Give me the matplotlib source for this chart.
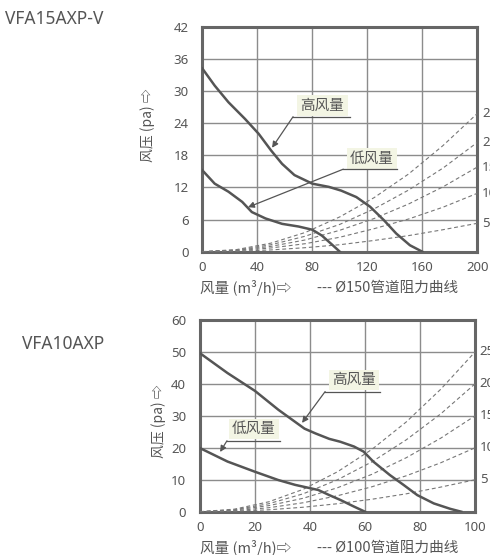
import matplotlib
matplotlib.use("Agg")
import matplotlib.pyplot as plt

plt.rcParams['font.family'] = ['Noto Sans CJK SC', 'DejaVu Sans']

# ---- VFA15AXP-V (top chart) ----
top_x_ticks = [0, 40, 80, 120, 160, 200]
top_y_ticks = [0, 6, 12, 18, 24, 30, 36, 42]

top_high_x = [0, 9, 19, 31, 41, 50, 58, 67, 80, 92, 101, 112, 122, 132, 141, 151, 160]
top_high_y = [34.2, 31.0, 27.9, 24.8, 22.0, 18.9, 16.4, 14.3, 12.7, 12.1, 11.4, 10.2, 8.4, 5.9, 3.4, 1.2, 0]

top_low_x = [0, 9, 19, 29, 36, 46, 58, 70, 80, 87, 94, 100]
top_low_y = [15.2, 12.7, 11.2, 9.3, 7.4, 6.2, 5.2, 4.7, 4.1, 3.0, 1.4, 0]

# duct resistance curves (Ø150), labelled by duct length
top_duct_x = [0, 25, 50, 75, 100, 125, 150, 175, 200]
top_duct_labels = ["25", "20", "15", "10", "5"]
top_duct_y = [
    [0, 0.4, 1.6, 3.6, 6.5, 10.1, 14.5, 19.8, 25.8],
    [0, 0.3, 1.3, 2.9, 5.1, 8.0, 11.5, 15.6, 20.4],
    [0, 0.25, 1.0, 2.2, 4.0, 6.2, 8.9, 12.1, 15.8],
    [0, 0.17, 0.7, 1.5, 2.7, 4.3, 6.1, 8.3, 10.9],
    [0, 0.08, 0.33, 0.75, 1.3, 2.1, 3.0, 4.1, 5.3],
]

# ---- VFA10AXP (bottom chart) ----
bot_x_ticks = [0, 20, 40, 60, 80, 100]
bot_y_ticks = [0, 10, 20, 30, 40, 50, 60]

bot_high_x = [0, 10, 20, 28.5, 38, 42, 47, 51, 56, 59.5, 63, 69, 74, 79, 85, 91, 95]
bot_high_y = [49.6, 43.4, 37.8, 31.9, 26.0, 24.5, 22.8, 21.9, 20.4, 18.8, 15.7, 11.5, 8.4, 5.2, 2.6, 0.9, 0]

bot_low_x = [0, 10, 20, 28.5, 34.6, 43, 47, 51, 56, 60]
bot_low_y = [19.9, 15.7, 12.5, 9.9, 8.4, 6.8, 5.2, 3.7, 1.6, 0]

bot_duct_x = [0, 12.5, 25, 37.5, 50, 62.5, 75, 87.5, 100]
bot_duct_labels = ["25", "20", "15", "10", "5"]
bot_duct_y = [
    [0, 0.8, 3.1, 7.0, 12.5, 19.5, 28.1, 38.3, 50],
    [0, 0.6, 2.5, 5.6, 10, 15.6, 22.5, 30.6, 40],
    [0, 0.5, 1.9, 4.2, 7.5, 11.7, 16.9, 23.0, 30],
    [0, 0.3, 1.25, 2.8, 5, 7.8, 11.25, 15.3, 20],
    [0, 0.16, 0.6, 1.4, 2.5, 3.9, 5.6, 7.7, 10],
]

TXT = "#555555"
CURVE = "#555555"
BOX = "#f3f5e4"

fig = plt.figure(figsize=(4.9, 5.55), dpi=100)
ax1 = fig.add_axes([0.4129, 0.5465, 0.5612, 0.4054])
ax2 = fig.add_axes([0.4082, 0.0780, 0.5612, 0.3454])


def setup(ax, xt, yt):
    ax.set_xlim(xt[0], xt[-1])
    ax.set_ylim(yt[0], yt[-1])
    ax.set_xticks(xt)
    ax.set_yticks(yt)
    ax.grid(True, color="#8c8c8c", linewidth=1.0)
    ax.set_axisbelow(True)
    ax.tick_params(length=0, labelsize=9.5, labelcolor=TXT)
    ax.tick_params(axis="y", pad=10)
    ax.tick_params(axis="x", pad=7)
    for s in ax.spines.values():
        s.set_linewidth(2.2)
        s.set_color("#666666")
    for lab in ax.get_xticklabels() + ax.get_yticklabels():
        lab.set_family(["Noto Sans", "DejaVu Sans"])


def leader(ax, text, center, line_pts, tip):
    ax.text(center[0], center[1], text, ha="center", va="center", fontsize=10.5,
            color=TXT, zorder=6,
            bbox=dict(boxstyle="square,pad=0.22", facecolor=BOX, edgecolor="none"))
    xs = [p[0] for p in line_pts]
    ys = [p[1] for p in line_pts]
    ax.plot(xs, ys, color="#555555", linewidth=0.9, zorder=6, clip_on=False)
    ax.annotate("", xy=tip, xytext=line_pts[-1],
                arrowprops=dict(arrowstyle="-|>", color="#555555", lw=0.9,
                                mutation_scale=9, shrinkA=0, shrinkB=0),
                zorder=6)


# top chart
setup(ax1, top_x_ticks, top_y_ticks)
for ys, lab in zip(top_duct_y, top_duct_labels):
    ax1.plot(top_duct_x, ys, color="#777777", linewidth=0.8, linestyle=(0, (3.5, 2.5)), zorder=3)
    ax1.text(1.017, ys[-1] / top_y_ticks[-1], lab, transform=ax1.transAxes,
             ha="left", va="center", fontsize=9.5, color=TXT, clip_on=False,
             family=["Noto Sans", "DejaVu Sans"])
ax1.plot(top_high_x, top_high_y, color=CURVE, linewidth=1.8, zorder=4, solid_joinstyle="round")
ax1.plot(top_low_x, top_low_y, color=CURVE, linewidth=1.8, zorder=4, solid_joinstyle="round")
leader(ax1, "高风量", (87.4, 27.3), [(107.4, 25.2), (66.0, 25.2)], (50.7, 19.4))
leader(ax1, "低风量", (123.4, 17.4), [(141.6, 15.4), (102.5, 15.4)], (33.2, 8.3))

# bottom chart
setup(ax2, bot_x_ticks, bot_y_ticks)
for ys, lab in zip(bot_duct_y, bot_duct_labels):
    ax2.plot(bot_duct_x, ys, color="#777777", linewidth=0.8, linestyle=(0, (3.5, 2.5)), zorder=3)
    ax2.text(1.017, ys[-1] / bot_y_ticks[-1], lab, transform=ax2.transAxes,
             ha="left", va="center", fontsize=9.5, color=TXT, clip_on=False,
             family=["Noto Sans", "DejaVu Sans"])
ax2.plot(bot_high_x, bot_high_y, color=CURVE, linewidth=1.8, zorder=4, solid_joinstyle="round")
ax2.plot(bot_low_x, bot_low_y, color=CURVE, linewidth=1.8, zorder=4, solid_joinstyle="round")
leader(ax2, "高风量", (56.0, 41.3), [(65.5, 37.6), (45.5, 37.6)], (37.1, 27.8))
leader(ax2, "低风量", (19.6, 25.8), [(29.1, 22.2), (9.8, 22.2)], (7.3, 18.7))

# titles and axis labels
fig.text(0.010, 1 - 19 / 555, "VFA15AXP-V", fontsize=12.5, color=TXT, va="center",
         family=["Noto Sans", "DejaVu Sans"])
fig.text(0.045, 1 - 344 / 555, "VFA10AXP", fontsize=12.5, color=TXT, va="center",
         family=["Noto Sans", "DejaVu Sans"])

fig.text(0.302, 1 - 125 / 555, "风压 (pa) ⇨", rotation=90, fontsize=10, color=TXT,
         ha="center", va="center")
fig.text(0.3235, 1 - 421 / 555, "风压 (pa) ⇨", rotation=90, fontsize=10, color=TXT,
         ha="center", va="center")

fig.text(0.408, 1 - 288 / 555, "风量 (m³/h)⇨", fontsize=10.5, color=TXT, va="center")
fig.text(0.647, 1 - 288 / 555, "--- Ø150管道阻力曲线", fontsize=10.5, color=TXT, va="center")
fig.text(0.408, 1 - 548 / 555, "风量 (m³/h)⇨", fontsize=10.5, color=TXT, va="center")
fig.text(0.647, 1 - 548 / 555, "--- Ø100管道阻力曲线", fontsize=10.5, color=TXT, va="center")

fig.savefig("out.png", dpi=100)
